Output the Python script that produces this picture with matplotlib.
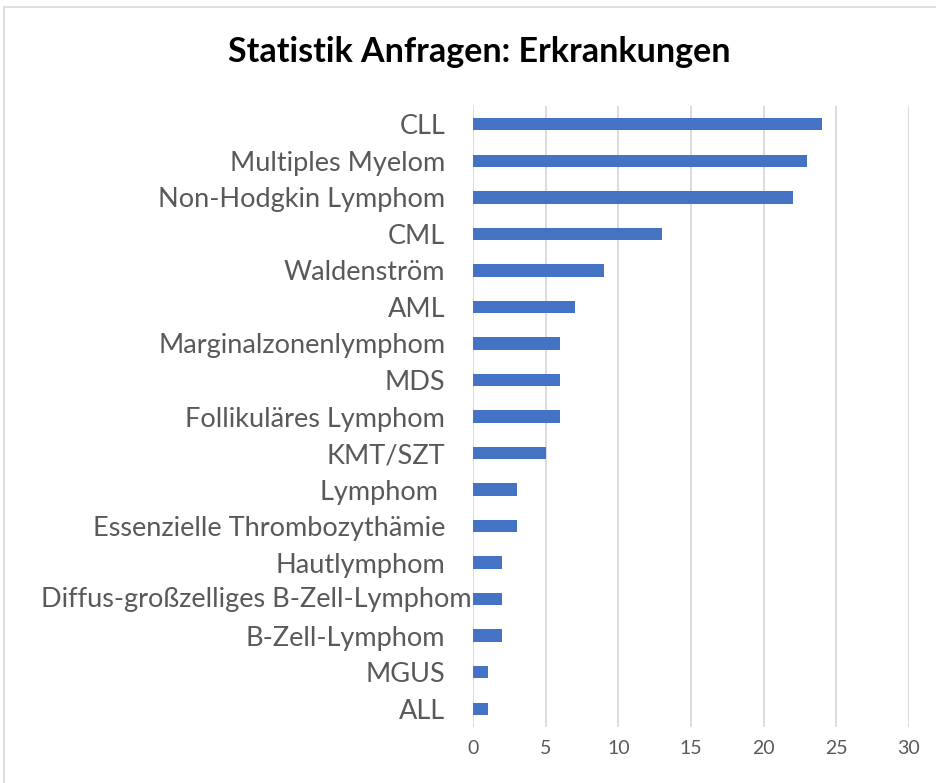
import matplotlib.pyplot as plt
from matplotlib.patches import Rectangle
from matplotlib.transforms import ScaledTranslation

categories = ["CLL", "Multiples Myelom", "Non-Hodgkin Lymphom", "CML", "Waldenström",
              "AML", "Marginalzonenlymphom", "MDS", "Follikuläres Lymphom", "KMT/SZT",
              "Lymphom ", "Essenzielle Thrombozythämie", "Hautlymphom",
              "Diffus-großzelliges B-Zell-Lymphom", "B-Zell-Lymphom", "MGUS", "ALL"]
values = [24, 23, 22, 13, 9, 7, 6, 6, 6, 5, 3, 3, 2, 2, 2, 1, 1]
xticks = [0, 5, 10, 15, 20, 25, 30]

plt.rcParams['font.family'] = ['Lato', 'DejaVu Sans']

fig = plt.figure(figsize=(9.37, 7.83), dpi=100)
ax = fig.add_axes([473 / 937, 1 - 727 / 783, (909 - 473) / 937, (727 - 106) / 783])

# bottom-to-top order so CLL ends up on top
pos = list(range(len(categories)))[::-1]
ax.barh(pos, values, height=0.34, color="#4472C4", zorder=3)

ax.set_xlim(0, 30)
ax.set_ylim(-0.5, len(categories) - 0.5)
ax.set_xticks(xticks)
ax.set_xticklabels([str(x) for x in xticks])
ax.set_yticks(pos)

# the very long label overflows up to the axis (Excel does this), so draw it by hand
long_idx = [i for i, c in enumerate(categories) if len(c) > 30]
ax.set_yticklabels(["" if i in long_idx else c for i, c in enumerate(categories)])
for i in long_idx:
    ax.text(0, pos[i], categories[i], ha="right", va="center", fontsize=19.5,
            color="#595959",
            transform=ax.get_yaxis_transform() + ScaledTranslation(-1 / 100, 0, fig.dpi_scale_trans))

ax.grid(axis="x", color="#D9D9D9", linewidth=1.3, zorder=0)
for s in ax.spines.values():
    s.set_visible(False)
ax.tick_params(axis="y", length=0, pad=20, labelsize=19.5, labelcolor="#595959")
ax.tick_params(axis="x", length=0, pad=9, labelsize=14, labelcolor="#595959")

fig.text(479 / 937, 1 - 52 / 783, "Statistik Anfragen: Erkrankungen",
         ha="center", va="center", fontsize=24.5, fontweight="bold", color="black")

# chart area border
fig.patches.append(Rectangle((4 / 937, -0.05), 1.0, (783 - 7) / 783 + 0.05,
                             transform=fig.transFigure, fill=False,
                             edgecolor="#D9D9D9", linewidth=1.2))

fig.savefig("out.png", dpi=100)
